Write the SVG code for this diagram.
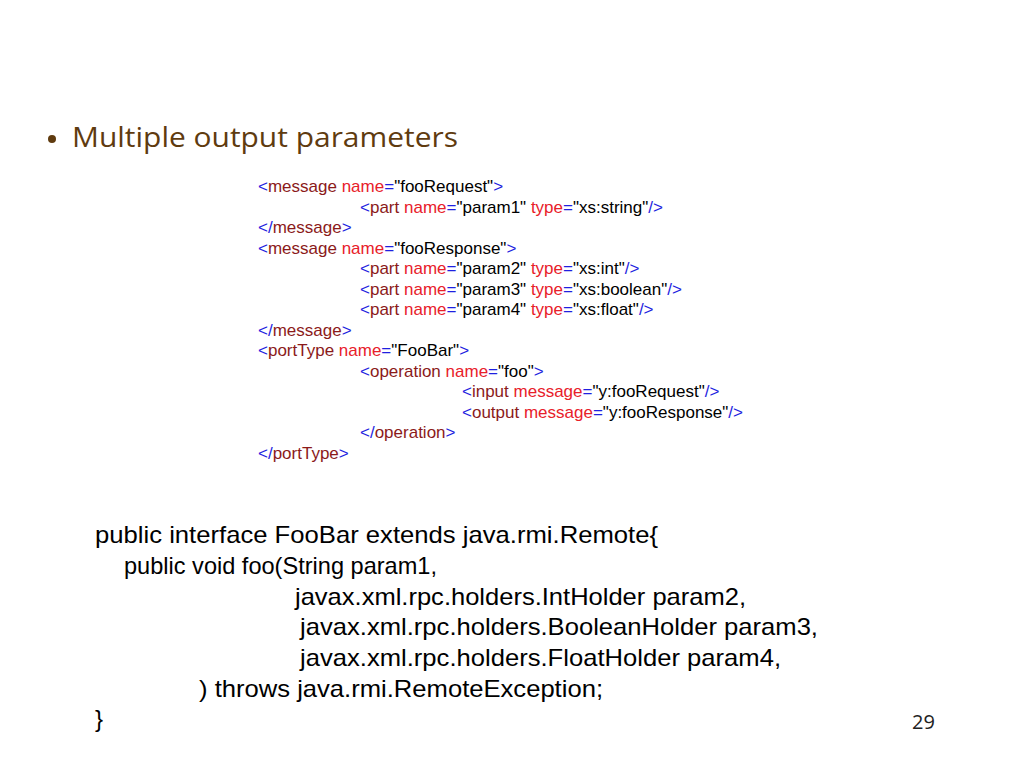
<svg xmlns="http://www.w3.org/2000/svg" width="1024" height="768" viewBox="0 0 1024 768">
<style>
.x{font-family:"Liberation Sans",Arial,sans-serif;font-size:17px;fill:#000}
.b{fill:#1f1fe0}
.t{fill:#8b1a1a}
.a{fill:#e8202a}
.j{font-family:"Liberation Sans",Arial,sans-serif;font-size:24px;fill:#000}
.title{font-family:"Open Sans","Noto Sans",sans-serif;font-size:27px;fill:#5f3b0f}
</style>
<rect width="1024" height="768" fill="#fff"/>
<g id="title">
<circle cx="52" cy="139" r="4" fill="#5f3b0f"/>
<text class="title" x="72" y="147" textLength="386" lengthAdjust="spacingAndGlyphs">Multiple output parameters</text>
</g>
<g id="wsdl">
<text class="x" x="258" y="192"><tspan class="b">&lt;</tspan><tspan class="t">message</tspan> <tspan class="a">name</tspan><tspan class="b">=</tspan>"fooRequest"<tspan class="b">&gt;</tspan></text>
<text class="x" x="360" y="213"><tspan class="b">&lt;</tspan><tspan class="t">part</tspan> <tspan class="a">name</tspan><tspan class="b">=</tspan>"param1" <tspan class="a">type</tspan><tspan class="b">=</tspan>"xs:string"<tspan class="b">/&gt;</tspan></text>
<text class="x" x="258" y="233"><tspan class="b">&lt;/</tspan><tspan class="t">message</tspan><tspan class="b">&gt;</tspan></text>
<text class="x" x="258" y="254"><tspan class="b">&lt;</tspan><tspan class="t">message</tspan> <tspan class="a">name</tspan><tspan class="b">=</tspan>"fooResponse"<tspan class="b">&gt;</tspan></text>
<text class="x" x="360" y="274"><tspan class="b">&lt;</tspan><tspan class="t">part</tspan> <tspan class="a">name</tspan><tspan class="b">=</tspan>"param2" <tspan class="a">type</tspan><tspan class="b">=</tspan>"xs:int"<tspan class="b">/&gt;</tspan></text>
<text class="x" x="360" y="295"><tspan class="b">&lt;</tspan><tspan class="t">part</tspan> <tspan class="a">name</tspan><tspan class="b">=</tspan>"param3" <tspan class="a">type</tspan><tspan class="b">=</tspan>"xs:boolean"<tspan class="b">/&gt;</tspan></text>
<text class="x" x="360" y="315"><tspan class="b">&lt;</tspan><tspan class="t">part</tspan> <tspan class="a">name</tspan><tspan class="b">=</tspan>"param4" <tspan class="a">type</tspan><tspan class="b">=</tspan>"xs:float"<tspan class="b">/&gt;</tspan></text>
<text class="x" x="258" y="336"><tspan class="b">&lt;/</tspan><tspan class="t">message</tspan><tspan class="b">&gt;</tspan></text>
<text class="x" x="258" y="356"><tspan class="b">&lt;</tspan><tspan class="t">portType</tspan> <tspan class="a">name</tspan><tspan class="b">=</tspan>"FooBar"<tspan class="b">&gt;</tspan></text>
<text class="x" x="360" y="377"><tspan class="b">&lt;</tspan><tspan class="t">operation</tspan> <tspan class="a">name</tspan><tspan class="b">=</tspan>"foo"<tspan class="b">&gt;</tspan></text>
<text class="x" x="462" y="397"><tspan class="b">&lt;</tspan><tspan class="t">input</tspan> <tspan class="a">message</tspan><tspan class="b">=</tspan>"y:fooRequest"<tspan class="b">/&gt;</tspan></text>
<text class="x" x="462" y="418"><tspan class="b">&lt;</tspan><tspan class="t">output</tspan> <tspan class="a">message</tspan><tspan class="b">=</tspan>"y:fooResponse"<tspan class="b">/&gt;</tspan></text>
<text class="x" x="360" y="438"><tspan class="b">&lt;/</tspan><tspan class="t">operation</tspan><tspan class="b">&gt;</tspan></text>
<text class="x" x="258" y="459"><tspan class="b">&lt;/</tspan><tspan class="t">portType</tspan><tspan class="b">&gt;</tspan></text>
</g>
<g id="java">
<text class="j" x="95" y="543" textLength="563" lengthAdjust="spacingAndGlyphs">public interface FooBar extends java.rmi.Remote{</text>
<text class="j" x="124" y="574" textLength="313" lengthAdjust="spacingAndGlyphs">public void foo(String param1,</text>
<text class="j" x="295" y="605" textLength="451" lengthAdjust="spacingAndGlyphs">javax.xml.rpc.holders.IntHolder param2,</text>
<text class="j" x="300" y="635" textLength="518" lengthAdjust="spacingAndGlyphs">javax.xml.rpc.holders.BooleanHolder param3,</text>
<text class="j" x="300" y="666" textLength="481" lengthAdjust="spacingAndGlyphs">javax.xml.rpc.holders.FloatHolder param4,</text>
<text class="j" x="199" y="697" textLength="404" lengthAdjust="spacingAndGlyphs">) throws java.rmi.RemoteException;</text>
<text class="j" x="95" y="727">}</text>
</g>
<g id="page">
<text x="912" y="729" font-family="'Open Sans','Noto Sans',sans-serif" font-size="20" fill="#222">29</text>
</g>
</svg>
